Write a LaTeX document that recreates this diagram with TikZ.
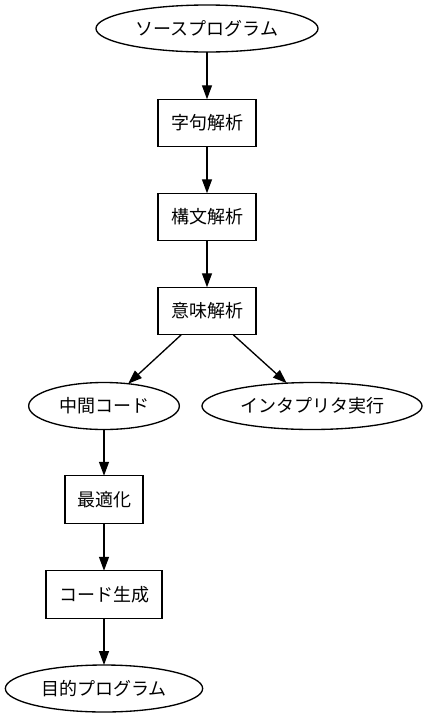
\documentclass[tikz,border=0pt]{standalone}
\usepackage{fontspec}
\newfontfamily\jpfont{Noto Sans CJK JP}
\usepackage{tikz}
\usetikzlibrary{shapes.geometric,arrows.meta}

\begin{document}
\begin{tikzpicture}[x=0.75pt,y=-0.75pt,line width=1pt,
		font=\jpfont\fontsize{13.5}{16}\selectfont,
		phase/.style={draw,rectangle,outer sep=0pt,inner sep=0pt,minimum height=35.6pt},
		prog/.style={draw,ellipse,outer sep=0pt,inner sep=0pt,minimum height=35.25pt},
		flow/.style={-{Triangle[length=10.5pt,width=7.5pt]}}]
		\useasboundingbox (0,0) rectangle (427,718);

		\node[prog,minimum width=166.5pt] (src) at (207,28.5) {ソースプログラム};
		\node[phase,minimum width=73.5pt] (lex) at (207,123) {字句解析};
		\node[phase,minimum width=73.5pt] (syn) at (207,217) {構文解析};
		\node[phase,minimum width=73.5pt] (sem) at (207,311) {意味解析};

		\node[prog,minimum width=113pt] (ir) at (104,406) {中間コード};
		\node[prog,minimum width=165pt] (interp) at (312,406) {インタプリタ実行};

		\node[phase,minimum width=58.5pt] (opt) at (104,499.5) {最適化};
		\node[phase,minimum width=87pt] (gen) at (104,594.5) {コード生成};
		\node[prog,minimum width=148pt] (obj) at (104,688.5) {目的プログラム};

		\draw[flow] (src) -- (lex);
		\draw[flow] (lex) -- (syn);
		\draw[flow] (syn) -- (sem);
		\draw[flow] (sem) -- (ir);
		\draw[flow] (sem) -- (interp);
		\draw[flow] (ir) -- (opt);
		\draw[flow] (opt) -- (gen);
		\draw[flow] (gen) -- (obj);

	\end{tikzpicture}
\end{document}
